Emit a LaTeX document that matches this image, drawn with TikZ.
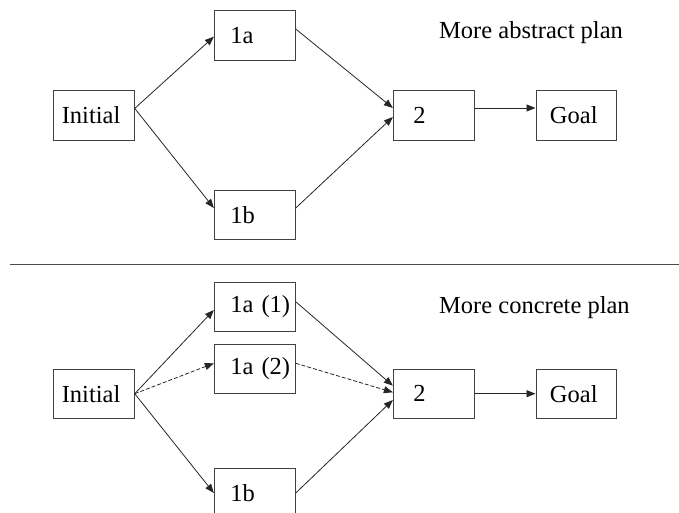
\documentclass[tikz,border=0pt]{standalone}
\usepackage{fontspec}
\setmainfont{Liberation Serif}
\usetikzlibrary{arrows.meta}
\tikzset{
  planbox/.style={draw=black!75, line width=0.9pt, rectangle, minimum height=49.5pt,
    inner ysep=0pt, align=left, font=\fontsize{24.5}{29}\selectfont},
  pad/.style n args={2}{inner xsep=#1, text width=#2},
  flow/.style={draw=black!85, line width=0.8pt, -{Triangle[length=9pt,width=7pt]}},
  altflow/.style={flow, dash pattern=on 4pt off 2pt},
  heading/.style={font=\fontsize{24.5}{29}\selectfont, anchor=west, inner sep=0pt},
  divider/.style={draw=black!70, line width=1pt}
}
\begin{document}
\begin{tikzpicture}[x=1pt, y=-1pt]
\useasboundingbox (0,0) rectangle (679,513);
\clip (0,0) rectangle (679,513);

% ---- abstract plan ----
\node[planbox, pad={8.5pt}{64pt}]  (ini1)  at (93.8,115.4) {Initial};
\node[planbox, pad={16pt}{49pt}]   (a1)    at (254.8,35.5) {1a};
\node[planbox, pad={16pt}{49pt}]   (b1)    at (254.8,214.7) {1b};
\node[planbox, pad={20pt}{41pt}]   (two1)  at (433.8,115.4) {2};
\node[planbox, pad={14pt}{52.7pt}] (goal1) at (576.3,115.4) {Goal};
\node[heading] (lbl1) at (439,33) {More abstract plan};

\draw[flow] ([yshift=7pt]ini1.east) -- ([yshift=-1.2pt]a1.west);
\draw[flow] ([yshift=7pt]ini1.east) -- ([yshift=6.7pt]b1.west);
\draw[flow] ([yshift=6.5pt]a1.east) -- ([yshift=7.4pt]two1.west);
\draw[flow] ([yshift=6.7pt]b1.east) -- ([yshift=-1.6pt]two1.west);
\draw[flow] ([yshift=7.4pt]two1.east) -- ([yshift=7.4pt]goal1.west);

% ---- separator ----
\coordinate (sepL) at (10,264);
\coordinate (sepR) at (679,264);
\draw[divider] (sepL) -- (sepR);

% ---- concrete plan ----
\node[planbox, pad={8.5pt}{64pt}]  (ini2)  at (93.8,393.7) {Initial};
\node[planbox, pad={16pt}{49pt}]   (a11)   at (254.8,307) {\mbox{1a (1)}};
\node[planbox, pad={16pt}{49pt}]   (a12)   at (254.8,369) {\mbox{1a (2)}};
\node[planbox, pad={16pt}{49pt}]   (b2)    at (254.8,493) {1b};
\node[planbox, pad={20pt}{41pt}]   (two2)  at (433.8,393.7) {2};
\node[planbox, pad={14pt}{52.7pt}] (goal2) at (576.3,393.7) {Goal};
\node[heading] (lbl2) at (439,308) {More concrete plan};

\draw[flow]    (ini2.east) -- ([yshift=-3pt]a11.west);
\draw[altflow] (ini2.east) -- ([yshift=5.7pt]a12.west);
\draw[flow]    (ini2.east) -- (b2.west);
\draw[flow]    ([yshift=5.3pt]a11.east) -- ([yshift=8pt]two2.west);
\draw[altflow] ([yshift=5.7pt]a12.east) -- ([yshift=1.4pt]two2.west);
\draw[flow]    (b2.east) -- ([yshift=-6.3pt]two2.west);
\draw[flow]    (two2.east) -- (goal2.west);
\end{tikzpicture}
\end{document}
